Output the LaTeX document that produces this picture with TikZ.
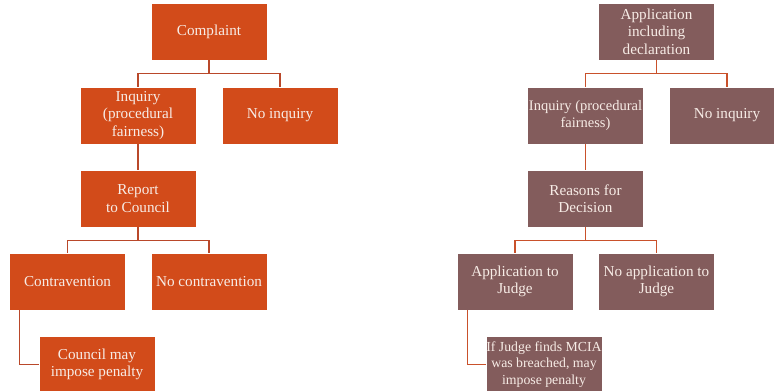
\documentclass[tikz,border=0pt]{standalone}
\usepackage{fontspec}
\setmainfont{Liberation Serif}
\usetikzlibrary{positioning}
\definecolor{rust}{HTML}{D24B1A}
\definecolor{mauve}{HTML}{835C5C}
\definecolor{linkL}{HTML}{B9482A}
\definecolor{linkR}{HTML}{C9512B}
\definecolor{paper}{HTML}{F7ECE6}

\begin{document}
\begin{tikzpicture}
   [x=1pt,y=-1pt,
    every node/.style={draw=white,line width=0.6pt,inner sep=0pt,
      minimum width=116pt,minimum height=57pt,align=center,
      text=paper,font=\fontsize{15.2}{17.5}\selectfont},
    leftbox/.style={fill=rust},
    rightbox/.style={fill=mauve},
    tight/.style={font=\fontsize{14.5}{17}\selectfont},
    tighter/.style={font=\fontsize{13.8}{16.8}\selectfont},
    linkl/.style={draw=linkL,line width=1.4pt},
    linkr/.style={draw=linkR,line width=1.4pt}]

\useasboundingbox (0,0) rectangle (774,391);

%%%%%%%%%%%%%%%%%%%%%%%%%%%%%%%%%%%%%%%%%%%%%%%%%%%%%%%%%%%%%%%
% Left tree = complaint
%%%%%%%%%%%%%%%%%%%%%%%%%%%%%%%%%%%%%%%%%%%%%%%%%%%%%%%%%%%%%%%

\node[leftbox](cmp) at (209,31.5) {Complaint};
\node[leftbox](inq) at (138,115.5) {Inquiry\\(procedural\\fairness)};
\node[leftbox](noinq) at (280,115.5) {No inquiry};
\node[leftbox](rep) at (138,198.5) {Report\\to Council};
\node[leftbox](contra) at (67.5,281.5) {Contravention};
\node[leftbox](nocontra) at (209,281.5) {No contravention};
\node[leftbox](pen) at (97,364.5) {Council may\\impose penalty};

% Connecting nodes
\draw[linkl] (cmp.south) -- ++(0,13) -| (inq.north);
\draw[linkl] (cmp.south) -- ++(0,13) -| (noinq.north);
\draw[linkl] (inq) -- (rep);
\draw[linkl] (rep.south) -- ++(0,13) -| (contra.north);
\draw[linkl] (rep.south) -- ++(0,13) -| (nocontra.north);
\draw[linkl] ([xshift=10.5pt]contra.south west) |- (pen.west);

%%%%%%%%%%%%%%%%%%%%%%%%%%%%%%%%%%%%%%%%%%%%%%%%%%%%%%%%%%%%%%%
% Right tree = application
%%%%%%%%%%%%%%%%%%%%%%%%%%%%%%%%%%%%%%%%%%%%%%%%%%%%%%%%%%%%%%%

\node[rightbox](app) at (656.5,31.5) {Application\\including\\declaration};
\node[rightbox,tight](rinq) at (585.5,115.5) {Inquiry (procedural\\fairness)};
\node[rightbox](rnoinq) at (727,115.5) {No inquiry};
\node[rightbox](rsn) at (585.5,198.5) {Reasons for\\Decision};
\node[rightbox](judge) at (515,281.5) {Application to\\Judge};
\node[rightbox](nojudge) at (656.5,281.5) {No application to\\Judge};
\node[rightbox,tighter](breach) at (544,364.5) {If Judge finds MCIA\\was breached, may\\impose penalty};

% Connecting nodes
\draw[linkr] (app.south) -- ++(0,13) -| (rinq.north);
\draw[linkr] (app.south) -- ++(0,13) -| (rnoinq.north);
\draw[linkr] (rinq) -- (rsn);
\draw[linkr] (rsn.south) -- ++(0,13) -| (judge.north);
\draw[linkr] (rsn.south) -- ++(0,13) -| (nojudge.north);
\draw[linkr] ([xshift=11pt]judge.south west) |- (breach.west);

\end{tikzpicture}
\end{document}
